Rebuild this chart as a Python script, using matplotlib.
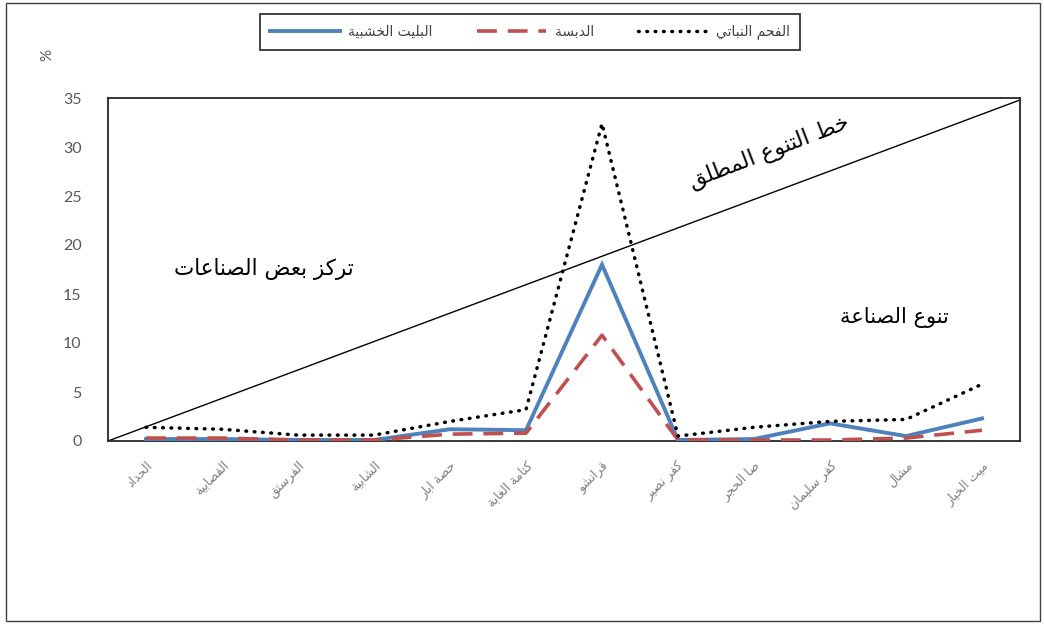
import matplotlib
matplotlib.use("Agg")
import matplotlib.pyplot as plt
from matplotlib.patches import Rectangle

# ---------------- data ----------------
categories = ["الحداد", "القصابية", "الفرستق", "الشابية", "حصة ابار", "كتامة الغابة",
              "قرانشو", "كفر نصير", "صا الحجر", "كفر سليمان", "مشال", "ميت الخيار"]
wood_pallets = [0.2, 0.2, 0.1, 0.1, 1.2, 1.1, 18.0, 0.1, 0.2, 1.8, 0.5, 2.3]
dibsa = [0.3, 0.3, 0.1, 0.1, 0.7, 0.8, 10.8, 0.1, 0.1, 0.1, 0.3, 1.1]
charcoal = [1.4, 1.2, 0.6, 0.6, 2.0, 3.2, 32.4, 0.5, 1.4, 2.0, 2.2, 5.8]
series_names = ["البليت الخشبية", "الدبسة", "الفحم النباتي"]
yticks = [0, 5, 10, 15, 20, 25, 30, 35]
line_label = "خط التنوع المطلق"
concentration_label = "تركز بعض الصناعات"
diversity_label = "تنوع الصناعة"

# ---------------- minimal Arabic shaping ----------------
FORMS = {
    'ا': ('\uFE8D', '\uFE8E', None, None),
    'ب': ('\uFE8F', '\uFE90', '\uFE91', '\uFE92'),
    'ة': ('\uFE93', '\uFE94', None, None),
    'ت': ('\uFE95', '\uFE96', '\uFE97', '\uFE98'),
    'ج': ('\uFE9D', '\uFE9E', '\uFE9F', '\uFEA0'),
    'ح': ('\uFEA1', '\uFEA2', '\uFEA3', '\uFEA4'),
    'خ': ('\uFEA5', '\uFEA6', '\uFEA7', '\uFEA8'),
    'د': ('\uFEA9', '\uFEAA', None, None),
    'ر': ('\uFEAD', '\uFEAE', None, None),
    'ز': ('\uFEAF', '\uFEB0', None, None),
    'س': ('\uFEB1', '\uFEB2', '\uFEB3', '\uFEB4'),
    'ش': ('\uFEB5', '\uFEB6', '\uFEB7', '\uFEB8'),
    'ص': ('\uFEB9', '\uFEBA', '\uFEBB', '\uFEBC'),
    'ض': ('\uFEBD', '\uFEBE', '\uFEBF', '\uFEC0'),
    'ط': ('\uFEC1', '\uFEC2', '\uFEC3', '\uFEC4'),
    'ع': ('\uFEC9', '\uFECA', '\uFECB', '\uFECC'),
    'غ': ('\uFECD', '\uFECE', '\uFECF', '\uFED0'),
    'ف': ('\uFED1', '\uFED2', '\uFED3', '\uFED4'),
    'ق': ('\uFED5', '\uFED6', '\uFED7', '\uFED8'),
    'ك': ('\uFED9', '\uFEDA', '\uFEDB', '\uFEDC'),
    'ل': ('\uFEDD', '\uFEDE', '\uFEDF', '\uFEE0'),
    'م': ('\uFEE1', '\uFEE2', '\uFEE3', '\uFEE4'),
    'ن': ('\uFEE5', '\uFEE6', '\uFEE7', '\uFEE8'),
    'ه': ('\uFEE9', '\uFEEA', '\uFEEB', '\uFEEC'),
    'و': ('\uFEED', '\uFEEE', None, None),
    'ى': ('\uFEEF', '\uFEF0', None, None),
    'ي': ('\uFEF1', '\uFEF2', '\uFEF3', '\uFEF4'),
}


def ar(text):
    chars = list(text)
    n = len(chars)
    out = []
    i = 0
    while i < n:
        c = chars[i]
        if c not in FORMS:
            out.append(c)
            i += 1
            continue
        prev = chars[i - 1] if i > 0 else None
        nxt = chars[i + 1] if i < n - 1 else None
        jp = prev in FORMS and FORMS[prev][2] is not None
        if c == 'ل' and nxt == 'ا':
            out.append('\uFEFC' if jp else '\uFEFB')
            i += 2
            continue
        f = FORMS[c]
        jn = f[2] is not None and nxt in FORMS
        if jp and jn:
            g = f[3]
        elif jp:
            g = f[1]
        elif jn:
            g = f[2]
        else:
            g = f[0]
        out.append(g)
        i += 1
    return ''.join(reversed(out))


# ---------------- figure ----------------
plt.rcParams['font.family'] = ['DejaVu Sans']
W, H = 1044, 625
fig = plt.figure(figsize=(W / 100, H / 100), dpi=100)
fig.patches.append(Rectangle((0.006, 0.006), 0.99, 0.99, transform=fig.transFigure,
                             fill=False, edgecolor='#404040', linewidth=1.0))

ax = fig.add_axes([108 / W, 1 - 441 / H, (1020 - 108) / W, (441 - 98) / H])
x = list(range(len(categories)))

ax.plot([-0.5, len(categories) - 0.5], [0, 34.8], color='black', linewidth=1.0, zorder=2)
l1, = ax.plot(x, wood_pallets, color='#4F81BD', linewidth=2.8, zorder=3,
              solid_joinstyle='miter')
l2, = ax.plot(x, dibsa, color='#C0504D', linewidth=2.6, zorder=4,
              linestyle=(0, (5.5, 3)), dash_capstyle='butt')
l3, = ax.plot(x, charcoal, color='black', linewidth=2.5, zorder=5,
              linestyle=(0, (0.2, 2.2)), dash_capstyle='round')

ax.set_xlim(-0.5, len(categories) - 0.5)
ax.set_ylim(0, 35)
ax.set_yticks(yticks)
ax.set_yticklabels([str(v) for v in yticks], fontfamily='Lato', fontsize=11.5, color='#595959')
ax.tick_params(axis='y', length=0, pad=19)
ax.set_xticks(x)
ax.set_xticklabels([ar(c) for c in categories], rotation=45, ha='right',
                   rotation_mode='anchor', fontsize=9, color='#7f7f7f')
ax.tick_params(axis='x', length=0, pad=13)
for s in ax.spines.values():
    s.set_color('#262626')
    s.set_linewidth(1.3)

ax.text(1.55, 17.6, ar(concentration_label), fontsize=15.5, ha='center', va='center')
ax.text(9.85, 12.6, ar(diversity_label), fontsize=15, ha='center', va='center')
ax.text(8.2, 29.5, ar(line_label), fontsize=16, ha='center', va='center',
        rotation=21, rotation_mode='anchor')

fig.text(47 / W, 1 - 55 / H, '%', rotation=90, ha='center', va='center',
         fontsize=11, color='#595959', fontfamily='Lato')

leg = fig.legend([l1, l2, l3], [ar(s) for s in series_names], ncol=3,
                 loc='center', bbox_to_anchor=(530 / W, 1 - 32 / H),
                 frameon=True, fancybox=False, fontsize=10, handlelength=5.0,
                 columnspacing=3.2, handletextpad=0.6, borderpad=0.75)
leg.get_frame().set_edgecolor('black')
leg.get_frame().set_linewidth(1.3)
for t in leg.get_texts():
    t.set_color('#404040')

fig.savefig('out.png', dpi=100)
